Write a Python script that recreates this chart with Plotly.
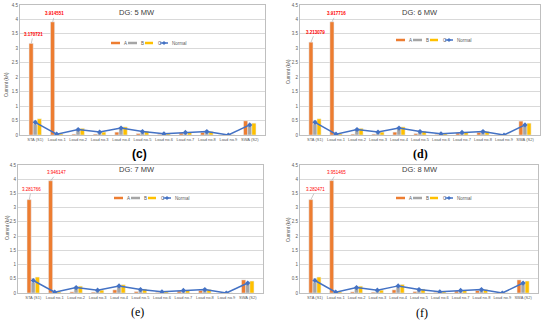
import plotly.graph_objects as go

categories = ["STA (S1)", "Load no.1", "Load no.2", "Load no.3", "Load no.4", "Load no.5",
              "Load no.6", "Load no.7", "Load no.8", "Load no.9", "SWA (S2)"]
y_ticks = [0, 0.5, 1, 1.5, 2, 2.5, 3, 3.5, 4, 4.5]

# Panel (c) DG: 5 MW
A_5 = [3.170721, 3.914551, 0.03, 0.03, 0.10, 0.05, 0.02, 0.07, 0.09, 0.005, 0.49]
B_5 = [0.38, 0.01, 0.21, 0.08, 0.22, 0.12, 0.04, 0.09, 0.13, 0.005, 0.35]
C_5 = [0.56, 0.04, 0.23, 0.10, 0.28, 0.13, 0.05, 0.09, 0.12, 0.005, 0.41]
N_5 = [0.44, 0.03, 0.19, 0.10, 0.24, 0.12, 0.04, 0.09, 0.12, 0.0, 0.35]

# Panel (d) DG: 6 MW
A_6 = [3.213079, 3.917716, 0.03, 0.03, 0.10, 0.05, 0.02, 0.07, 0.09, 0.005, 0.48]
B_6 = [0.38, 0.01, 0.21, 0.08, 0.22, 0.12, 0.04, 0.09, 0.13, 0.005, 0.35]
C_6 = [0.56, 0.04, 0.23, 0.10, 0.28, 0.13, 0.05, 0.09, 0.12, 0.005, 0.41]
N_6 = [0.44, 0.03, 0.19, 0.10, 0.24, 0.12, 0.04, 0.09, 0.12, 0.0, 0.35]

# Panel (e) DG: 7 MW
A_7 = [3.281766, 3.946147, 0.04, 0.03, 0.11, 0.05, 0.02, 0.07, 0.09, 0.005, 0.46]
B_7 = [0.38, 0.01, 0.21, 0.08, 0.23, 0.12, 0.04, 0.09, 0.13, 0.005, 0.36]
C_7 = [0.56, 0.04, 0.24, 0.10, 0.29, 0.14, 0.05, 0.09, 0.12, 0.005, 0.42]
N_7 = [0.44, 0.03, 0.19, 0.10, 0.25, 0.12, 0.04, 0.09, 0.12, 0.0, 0.35]

# Panel (f) DG: 8 MW
A_8 = [3.282471, 3.951465, 0.04, 0.03, 0.11, 0.05, 0.02, 0.07, 0.09, 0.005, 0.46]
B_8 = [0.38, 0.01, 0.21, 0.08, 0.23, 0.12, 0.04, 0.09, 0.13, 0.005, 0.36]
C_8 = [0.56, 0.04, 0.24, 0.10, 0.30, 0.14, 0.05, 0.09, 0.12, 0.005, 0.42]
N_8 = [0.44, 0.03, 0.19, 0.10, 0.25, 0.12, 0.04, 0.09, 0.12, 0.0, 0.35]

titles = ["DG: 5 MW", "DG: 6 MW", "DG: 7 MW", "DG: 8 MW"]
sub_labels = ["<b>(c)</b>", "<b>(d)</b>", "(e)", "(f)"]
series_names = ["A", "B", "C", "Normal"]
panels = [(A_5, B_5, C_5, N_5), (A_6, B_6, C_6, N_6), (A_7, B_7, C_7, N_7), (A_8, B_8, C_8, N_8)]

W, H = 550, 321
def px(x):
    return x / W
def py(y):
    return 1 - y / H

FONT = "Liberation Sans"
# pixel boxes of plot areas: (x0, x1, ytop, ybottom)
boxes = [(20, 265, 5, 135), (300, 540, 5, 135), (18, 263, 165, 293), (300, 538, 165, 293)]
title_pos = [(137, 12), (420, 12), (137, 170), (420, 170)]
sub_pos = [(139, 154), (420, 154), (137, 312), (422, 313)]
legend_pos = [(110, 43), (395, 40), (113, 198), (395, 198)]
ytitle_pos = [(7, 85), (288, 72), (7, 228), (288, 230)]
label_offsets = [[(2, -9), (2, -8)], [(4, -10), (4, -8)], [(2, -10), (6, -8)], [(5, -10), (5, -8)]]
label_bold = [True, True, False, False]

colors = {"A": "#ED7D31", "B": "#A5A5A5", "C": "#FFC000", "Normal": "#4472C4"}

fig = go.Figure()
annotations = []
shapes = []
layout = {}
for i, (A, B, C, N) in enumerate(panels):
    k = "" if i == 0 else str(i + 1)
    xa, ya = "x" + k, "y" + k
    for name, vals in (("A", A), ("B", B), ("C", C)):
        fig.add_trace(go.Bar(x=categories, y=vals, name=name, marker_color=colors[name],
                             xaxis=xa, yaxis=ya, showlegend=False))
    fig.add_trace(go.Scatter(x=categories, y=N, name="Normal", mode="lines+markers",
                             line=dict(color=colors["Normal"], width=1.5),
                             marker=dict(symbol="diamond", size=4, color=colors["Normal"]),
                             xaxis=xa, yaxis=ya, showlegend=False))
    x0, x1, yt, yb = boxes[i]
    layout["xaxis" + k] = dict(domain=[px(x0), px(x1)], anchor=ya, type="category",
                               showline=True, mirror=True, linecolor="#bfbfbf", linewidth=1,
                               tickfont=dict(size=4, color="#595959", family=FONT), ticks="",
                               showgrid=False, tickangle=0, automargin=False)
    layout["yaxis" + k] = dict(domain=[py(yb), py(yt)], anchor=xa, range=[0, 4.5],
                               tickvals=y_ticks, showline=True, mirror=True, linecolor="#bfbfbf",
                               linewidth=1, gridcolor="#d9d9d9", gridwidth=1, automargin=False,
                               tickfont=dict(size=4.5, color="#595959", family=FONT), ticks="",
                               zeroline=False)
    # custom compact legend
    L, ly = legend_pos[i]
    seg = [(1, 10, 12), (18, 27, 29), (35, 43, 46), (50, 58, 60)]
    for (s0, s1, tx), name in zip(seg, series_names):
        wdt = 1.5 if name == "Normal" else 2.5
        shapes.append(dict(type="line", xref="paper", yref="paper",
                           x0=px(L + s0), x1=px(L + s1), y0=py(ly), y1=py(ly),
                           line=dict(color=colors[name], width=wdt)))
        if name == "Normal":
            cx = L + (s0 + s1) / 2
            shapes.append(dict(type="path", xref="paper", yref="paper",
                               path="M %f %f L %f %f L %f %f L %f %f Z" % (
                                   px(cx - 2), py(ly), px(cx), py(ly - 2),
                                   px(cx + 2), py(ly), px(cx), py(ly + 2)),
                               fillcolor=colors[name], line=dict(width=0)))
        annotations.append(dict(text=name, x=px(L + tx), y=py(ly), xref="paper", yref="paper",
                                xanchor="left", yanchor="middle", showarrow=False,
                                font=dict(size=4.5, color="#595959", family=FONT)))
    tx, ty = title_pos[i]
    annotations.append(dict(text=titles[i], x=px(tx), y=py(ty), xref="paper", yref="paper",
                            xanchor="center", yanchor="middle", showarrow=False,
                            font=dict(size=7.5, color="#404040", family=FONT)))
    sx, sy = sub_pos[i]
    annotations.append(dict(text=sub_labels[i], x=px(sx), y=py(sy), xref="paper", yref="paper",
                            xanchor="center", yanchor="middle", showarrow=False,
                            font=dict(size=12, color="#000000",
                                      family="Liberation Serif" if i else "Liberation Sans"),
                            ))
    yx, yy = ytitle_pos[i]
    annotations.append(dict(text="Current (kA)", x=px(yx), y=py(yy), xref="paper", yref="paper",
                            xanchor="center", yanchor="middle", showarrow=False, textangle=-90,
                            font=dict(size=4.5, color="#595959", family=FONT)))
    for j in (0, 1):
        ax, ay = label_offsets[i][j]
        txt = f"{A[j]:.6f}"
        if label_bold[i]:
            txt = "<b>" + txt + "</b>"
        annotations.append(dict(text=txt, x=categories[j], y=A[j],
                                xref=xa, yref=ya, xshift=-4, showarrow=True, arrowhead=0,
                                arrowwidth=0.6, arrowcolor="#a6a6a6", ax=ax, ay=ay, standoff=0,
                                font=dict(size=4.5, color="#FF0000", family=FONT)))

fig.update_layout(**layout)
fig.update_layout(width=W, height=H, margin=dict(l=0, r=0, t=0, b=0),
                  paper_bgcolor="white", plot_bgcolor="white",
                  barmode="group", bargap=0.42, bargroupgap=0,
                  font=dict(family=FONT, color="#595959"),
                  annotations=annotations, shapes=shapes, showlegend=False)
fig.write_html("out.html", config={"displayModeBar": False},
               post_script="document.body.style.margin='0';document.body.style.padding='0';")
